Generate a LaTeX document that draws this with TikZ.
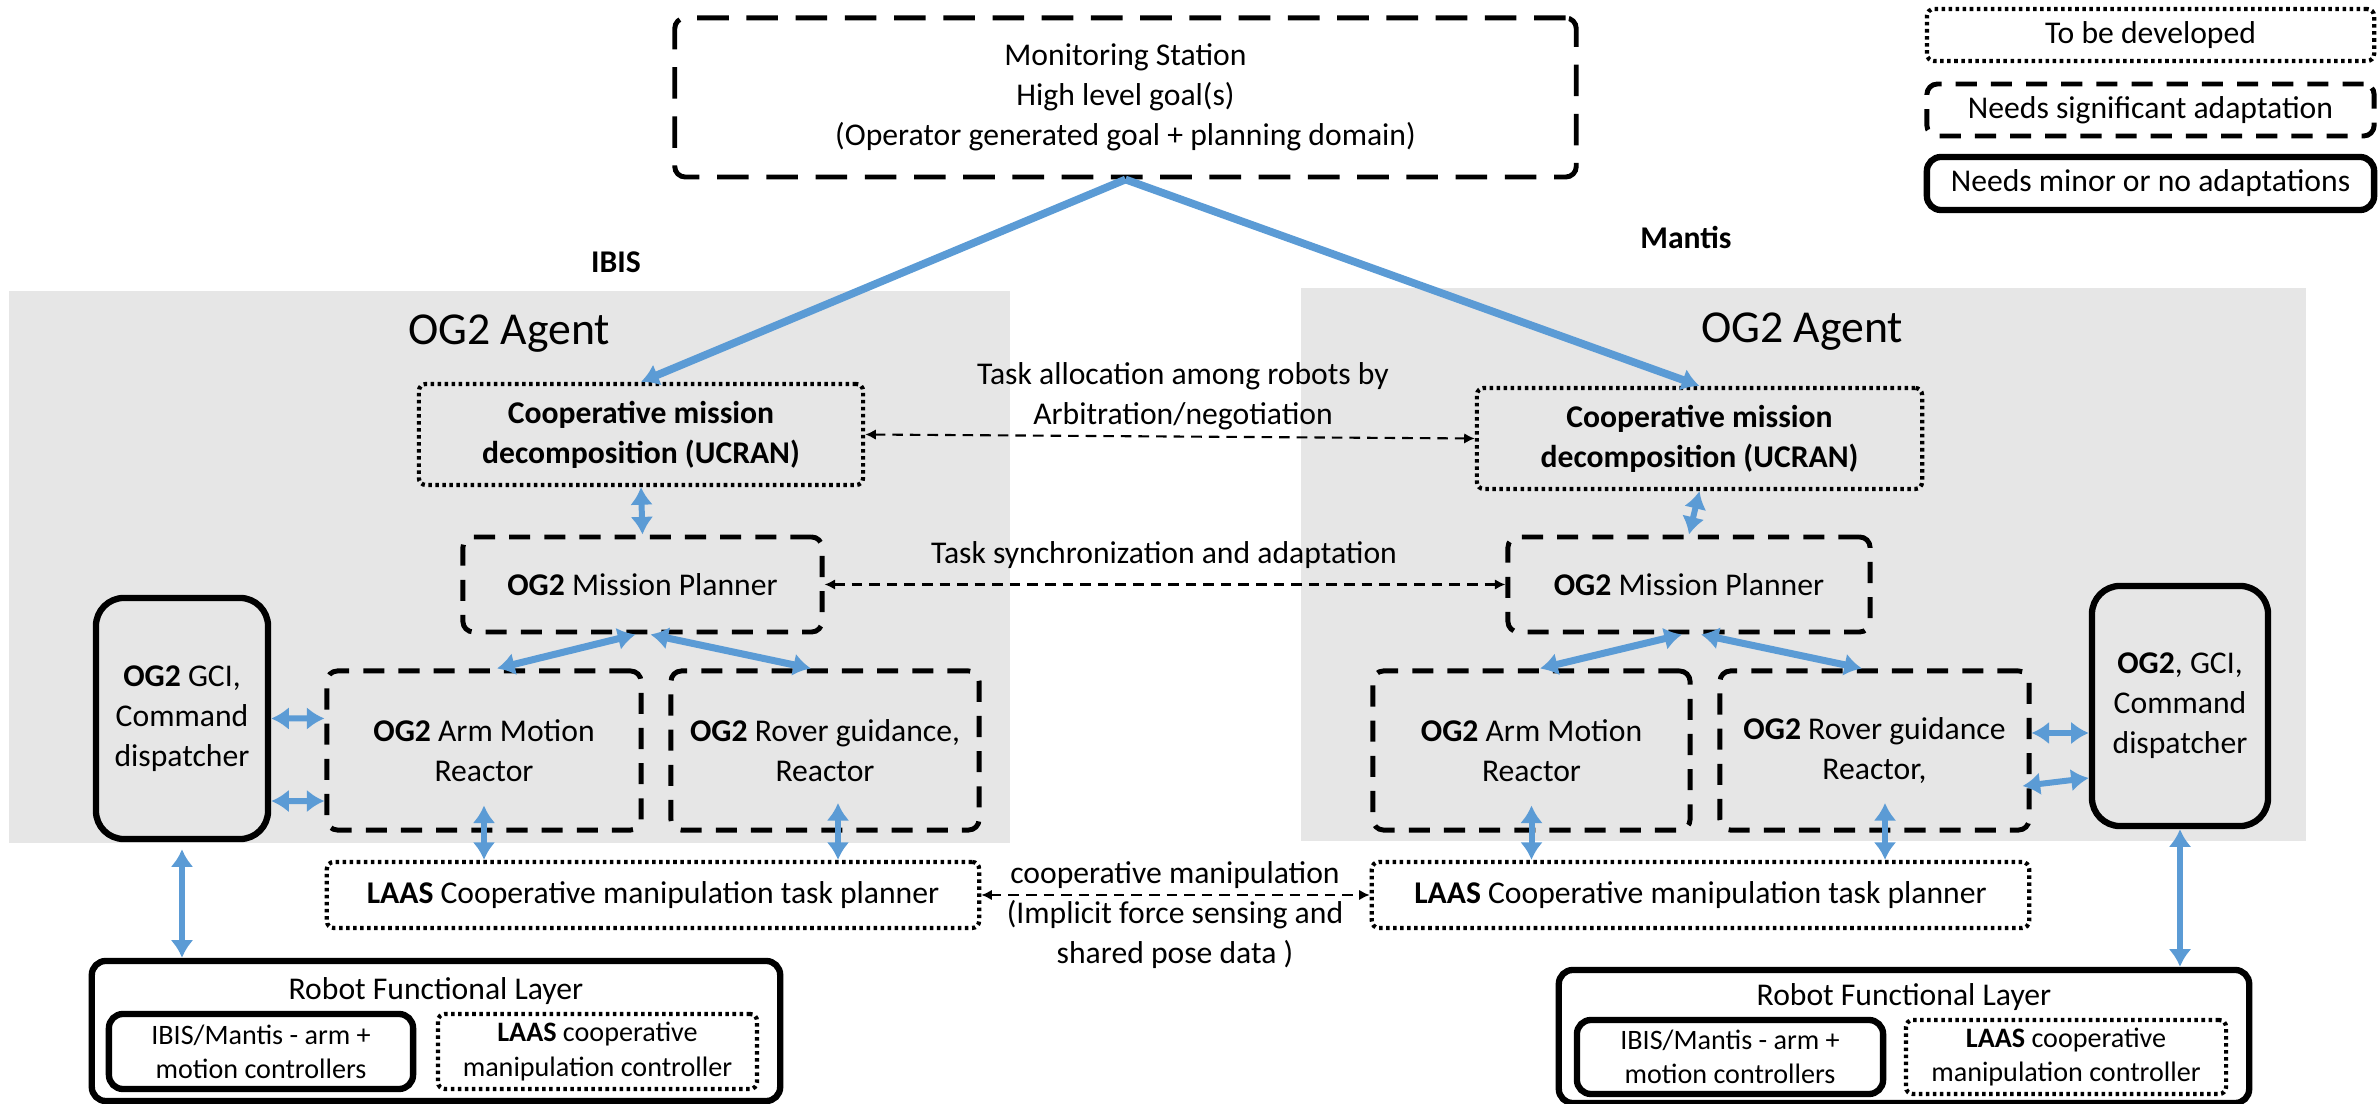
\documentclass[tikz,border=0pt]{standalone}
\usepackage{fontspec}
\setmainfont{Carlito}
\usetikzlibrary{arrows.meta}

\definecolor{linkblue}{HTML}{5B9BD5}
\definecolor{agentgrey}{HTML}{E6E6E6}

\begin{document}
\begin{tikzpicture}[x=0.01cm, y=-0.01cm,
    every node/.style={font=\fontsize{9}{11.4}\selectfont, align=center, inner sep=1pt},
    boldtext/.style={font=\fontsize{9}{11.4}\selectfont\bfseries},
    smalltext/.style={font=\fontsize{8}{9.7}\selectfont},
    dotbox/.style={draw, line width=1.2pt, dash pattern=on 1pt off 1pt, rounded corners=2pt},
    dashbox/.style={draw, line width=1.4pt, dash pattern=on 6pt off 4pt, rounded corners=3pt},
    solidbox/.style={draw, line width=1.8pt, rounded corners=4pt},
    link/.style={linkblue, line width=1.7pt, >={Latex[length=5pt,width=6.5pt]}, <->},
    talk/.style={densely dashed, line width=0.6pt, >={Latex[length=3pt,width=3pt]}, <->}
  ]
\useasboundingbox (0,0) rectangle (2378,1104);

\fill[agentgrey] (9,291) rectangle (1010,843);
\fill[agentgrey] (1301,288) rectangle (2306,841);

\node[dashbox, dash pattern=on 9pt off 5pt, minimum width=9.01cm, minimum height=1.59cm] (monitor) at (1125.5,97.5)
  {Monitoring Station\\High level goal(s)\\(Operator generated goal + planning domain)};

\node[dotbox, minimum width=4.47cm, minimum height=0.52cm] (todo) at (2150.5,35) {To be developed};
\node[dashbox, minimum width=4.47cm, minimum height=0.52cm] (adapt) at (2150.5,110) {Needs significant adaptation};
\node[solidbox, minimum width=4.47cm, minimum height=0.53cm] (minor) at (2150.5,183.5) {Needs minor or no adaptations};

\node[boldtext] (ibis) at (616,262) {IBIS};
\node[boldtext] (mantis) at (1686,237) {Mantis};
\node[font=\fontsize{13}{15}\selectfont] (agentL) at (509,334) {OG2 Agent};
\node[font=\fontsize{13}{15}\selectfont] (agentR) at (1802,332) {OG2 Agent};

\node[dotbox, boldtext, minimum width=4.44cm, minimum height=1.01cm] (coopL) at (641,434.5) {Cooperative mission\\decomposition (UCRAN)};
\node[dotbox, boldtext, minimum width=4.45cm, minimum height=1.01cm] (coopR) at (1699.5,438.5) {Cooperative mission\\decomposition (UCRAN)};

\node[dashbox, minimum width=3.59cm, minimum height=0.95cm] (planL) at (642.5,584.5) {\textbf{OG2} Mission Planner};
\node[dashbox, minimum width=3.62cm, minimum height=0.95cm] (planR) at (1689,584.5) {\textbf{OG2} Mission Planner};

\node[solidbox, rounded corners=8pt, minimum width=1.72cm, minimum height=2.41cm] (gciL) at (182,718.5) {\textbf{OG2} GCI,\\Command\\dispatcher};
\node[solidbox, rounded corners=8pt, minimum width=1.76cm, minimum height=2.40cm] (gciR) at (2180,706) {\textbf{OG2}, GCI,\\Command\\dispatcher};

\node[dashbox, minimum width=3.14cm, minimum height=1.59cm] (armL) at (484,750.5) {\textbf{OG2} Arm Motion\\Reactor};
\node[dashbox, minimum width=3.08cm, minimum height=1.59cm] (rovL) at (825,750.5) {\textbf{OG2} Rover guidance,\\Reactor};
\node[dashbox, minimum width=3.17cm, minimum height=1.59cm] (armR) at (1531.5,750.5) {\textbf{OG2} Arm Motion\\Reactor};
\node[dashbox, minimum width=3.09cm, minimum height=1.59cm] (rovR) at (1874.5,750.5) {\textbf{OG2} Rover guidance\\Reactor,};

\node[dotbox, minimum width=6.52cm, minimum height=0.66cm] (laasL) at (653,895) {\textbf{LAAS} Cooperative manipulation task planner};
\node[dotbox, minimum width=6.57cm, minimum height=0.66cm] (laasR) at (1700.5,895) {\textbf{LAAS} Cooperative manipulation task planner};

\node[solidbox, minimum width=6.88cm, minimum height=1.40cm] (rflL) at (436,1031) {};
\node (rflLtitle) at (436,991) {Robot Functional Layer};
\node[solidbox, smalltext, minimum width=3.04cm, minimum height=0.75cm] (ctrlL) at (261,1051.5) {IBIS/Mantis - arm +\\motion controllers};
\node[dotbox, smalltext, minimum width=3.19cm, minimum height=0.75cm] (manipL) at (597.5,1051.5) {\textbf{LAAS} cooperative\\manipulation controller};

\node[solidbox, minimum width=6.90cm, minimum height=1.33cm] (rflR) at (1904,1036.5) {};
\node (rflRtitle) at (1904,997) {Robot Functional Layer};
\node[solidbox, smalltext, minimum width=3.06cm, minimum height=0.74cm] (ctrlR) at (1730,1057) {IBIS/Mantis - arm +\\motion controllers};
\node[dotbox, smalltext, minimum width=3.20cm, minimum height=0.74cm] (manipR) at (2066,1057) {\textbf{LAAS} cooperative\\manipulation controller};

\node (allocnote) at (1183,396) {Task allocation among robots by\\Arbitration/negotiation};
\node (syncnote) at (1164,555) {Task synchronization and adaptation};
\node (manipnote) at (1175,915) {cooperative manipulation\\(Implicit force sensing and\\shared pose data )};

\draw[link, ->, line width=2.2pt] (monitor.south) -- (coopL.north);
\draw[link, ->, line width=2.2pt] (monitor.south) -- (coopR.north);

\draw[link] (coopL.south) -- (planL.north);
\draw[link] (coopR.south) -- (planR.north);

\draw[link, line width=2pt] ([xshift=-0.07cm]planL.south) -- ([xshift=0.13cm]armL.north);
\draw[link, line width=2pt] ([xshift=0.08cm]planL.south) -- ([xshift=-0.14cm]rovL.north);
\draw[link, line width=2pt] ([xshift=-0.07cm]planR.south) -- ([xshift=0.085cm]armR.north);
\draw[link, line width=2pt] ([xshift=0.12cm]planR.south) -- ([xshift=-0.125cm]rovR.north);

\draw[link] (gciL.east) -- ([yshift=0.32cm]armL.west);
\draw[link] ([yshift=-0.825cm]gciL.east) -- ([yshift=-0.505cm]armL.west);
\draw[link] ([yshift=0.175cm]rovR.east) -- ([yshift=-0.27cm]gciR.west);
\draw[link] ([xshift=-0.09cm,yshift=-0.355cm]rovR.east) -- ([yshift=-0.72cm]gciR.west);

\coordinate (rovLfoot) at (838,830);
\coordinate (rovRfoot) at (1885,830);
\draw[link, shorten <=-0.27cm] (armL.south) -- (armL.south |- laasL.north);
\draw[link, shorten <=-0.27cm] (rovLfoot) -- (rovLfoot |- laasL.north);
\draw[link, shorten <=-0.27cm] (armR.south) -- (armR.south |- laasR.north);
\draw[link, shorten <=-0.27cm] (rovRfoot) -- (rovRfoot |- laasR.north);

\draw[link, shorten <=0.07cm] (gciL.south) -- (gciL.south |- rflL.north);
\draw[link] (gciR.south) -- (gciR.south |- rflR.north);

\draw[talk] (coopL.east) -- (coopR.west);
\draw[talk] (planL.east) -- (planR.west);
\draw[talk] (laasL.east) -- (laasR.west);
\end{tikzpicture}
\end{document}
